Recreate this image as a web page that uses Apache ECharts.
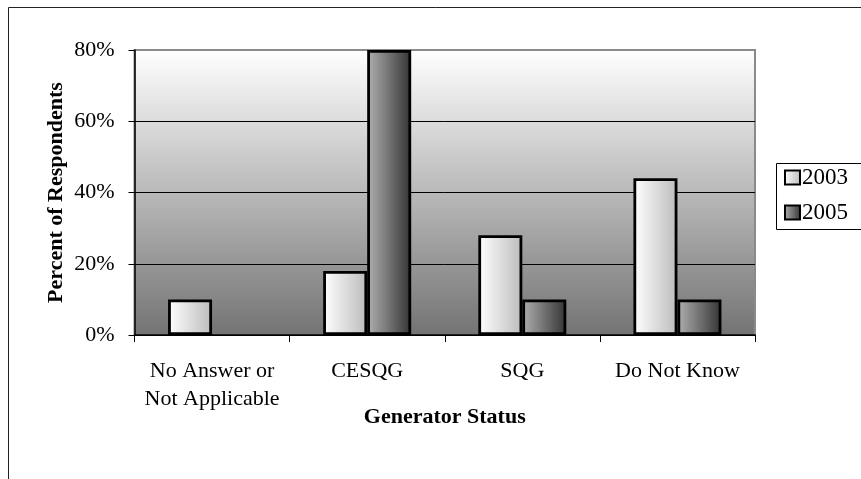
<!DOCTYPE html>
<html>
<head>
<meta charset="utf-8">
<script src="https://cdn.jsdelivr.net/npm/echarts@6/dist/echarts.min.js"></script>
<style>html,body{margin:0;padding:0;background:#fff;}#c{width:861px;height:479px;}</style>
</head>
<body>
<div id="c"></div>
<script>
var categories = ['No Answer or\nNot Applicable', 'CESQG', 'SQG', 'Do Not Know'];
var seriesNames = ['2003', '2005'];
var values2003 = [10, 18, 28, 44];
var values2005 = [null, 80, 10, 10];
var yTicks = [0, 20, 40, 60, 80];

var FONT = "'Liberation Serif', 'Times New Roman', serif";
var chart = echarts.init(document.getElementById('c'), null, {renderer: 'canvas'});
var G = echarts.graphic.LinearGradient;

var option = {
  animation: false,
  backgroundColor: '#fff',
  textStyle: {fontFamily: FONT, color: '#000'},
  grid: {
    left: 134.5, right: 106, top: 50, bottom: 144,
    show: true,
    borderColor: '#8a8a8a', borderWidth: 2,
    backgroundColor: new G(0, 0, 0, 1, [
      {offset: 0, color: '#ffffff'},
      {offset: 1, color: '#737373'}
    ])
  },
  legend: {
    orient: 'vertical',
    left: 784, top: 166,
    icon: 'rect',
    itemWidth: 15, itemHeight: 14,
    itemGap: 12,
    padding: 0,
    textStyle: {fontFamily: FONT, fontSize: 23, color: '#000', padding: [0, 0, 0, -3]},
    data: seriesNames
  },
  xAxis: {
    type: 'category',
    data: categories,
    axisLine: {lineStyle: {color: '#000', width: 1.5}},
    axisTick: {show: true, length: 7, lineStyle: {color: '#000'}},
    axisLabel: {fontFamily: FONT, fontSize: 22, color: '#000', margin: 22, lineHeight: 28, interval: 0},
    name: 'Generator Status',
    nameLocation: 'middle',
    nameMoveOverlap: false,
    nameGap: 71,
    nameTextStyle: {fontFamily: FONT, fontSize: 22, fontWeight: 'bold', color: '#000'}
  },
  yAxis: {
    type: 'value',
    min: yTicks[0], max: yTicks[yTicks.length - 1], interval: 20,
    axisLine: {show: true, lineStyle: {color: '#000', width: 1.5}},
    axisTick: {show: true, length: 6, lineStyle: {color: '#000'}},
    axisLabel: {fontFamily: FONT, fontSize: 22, color: '#000', margin: 20, formatter: '{value}%'},
    splitLine: {show: true, lineStyle: {color: ['#000', '#000', '#000', '#000', '#8a8a8a'], width: 1}},
    name: 'Percent of Respondents',
    nameLocation: 'middle',
    nameMoveOverlap: false,
    nameGap: 67,
    nameTextStyle: {fontFamily: FONT, fontSize: 22, fontWeight: 'bold', color: '#000'}
  },
  series: [
    {
      name: seriesNames[0], type: 'bar', data: values2003,
      barWidth: 44, barGap: '0%',
      itemStyle: {
        color: new G(0, 0, 1, 0, [{offset: 0, color: '#ffffff'}, {offset: 1, color: '#bcbcbc'}]),
        borderColor: '#000', borderWidth: 2.8
      }
    },
    {
      name: seriesNames[1], type: 'bar', data: values2005,
      barWidth: 44, barGap: '0%',
      itemStyle: {
        color: new G(0, 0, 1, 0, [{offset: 0, color: '#b0b0b0'}, {offset: 1, color: '#343434'}]),
        borderColor: '#000', borderWidth: 2.8
      }
    }
  ],
  graphic: [
    {type: 'rect', silent: true, z: -10, shape: {x: 8.5, y: 7.5, width: 900, height: 500},
     style: {fill: 'none', stroke: '#222', lineWidth: 1}},
    {type: 'rect', silent: true, z: -10, shape: {x: 776.5, y: 163.5, width: 120, height: 66},
     style: {fill: '#fff', stroke: '#000', lineWidth: 1}}
  ]
};
chart.setOption(option);
</script>
</body>
</html>
